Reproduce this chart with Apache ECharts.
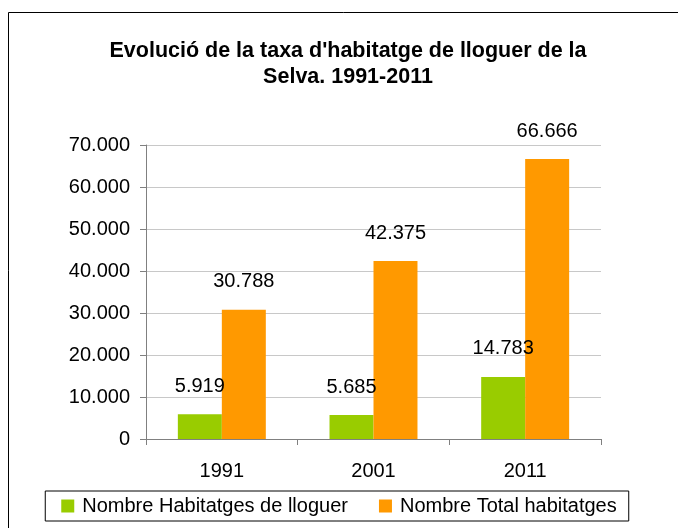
<!DOCTYPE html>
<html><head><meta charset="utf-8">
<script src="https://cdn.jsdelivr.net/npm/echarts@6/dist/echarts.min.js"></script>
<style>html,body{margin:0;padding:0;background:#fff}#c{width:678px;height:528px}</style>
</head><body><div id="c"></div>
<script>
const categories = ['1991', '2001', '2011'];
const lloguer = [5919, 5685, 14783];
const total = [30788, 42375, 66666];
const seriesNames = ['Nombre Habitatges de lloguer', 'Nombre Total habitatges'];
const titleText = "Evolució de la taxa d'habitatge de lloguer de la\nSelva. 1991-2011";

function fmt(v) { return String(Math.round(v)).replace(/\B(?=(\d{3})+(?!\d))/g, '.'); }
const F = 'Liberation Sans, Arial, sans-serif';
const chart = echarts.init(document.getElementById('c'));
const lbl = { show: true, position: 'top', distance: 18, color: '#000', fontSize: 20, fontFamily: F, formatter: p => fmt(p.value) };
chart.setOption({
  animation: false,
  graphic: [{ type: 'rect', shape: { x: 8.5, y: 12.5, width: 700, height: 600 }, style: { fill: 'none', stroke: '#000', lineWidth: 1 } }],
  title: { text: titleText, left: 343, top: 33, textAlign: 'center',
    textStyle: { fontFamily: F, fontWeight: 'bold', fontSize: 21.5, color: '#000', lineHeight: 26 } },
  legend: { bottom: 7, left: 'center', itemWidth: 13, itemHeight: 13, itemGap: 31, borderColor: '#000', borderWidth: 1, padding: [5, 12, 5, 16],
    textStyle: { fontFamily: F, fontSize: 20, color: '#000', lineHeight: 20, padding: [0, 0, 0, 3] }, icon: 'rect', data: seriesNames },
  grid: { left: 146, right: 77, top: 145, bottom: 89, containLabel: false },
  xAxis: { type: 'category', data: categories,
    axisLine: { lineStyle: { color: '#808080' } },
    axisTick: { show: true, length: 6, lineStyle: { color: '#808080' } },
    axisLabel: { color: '#000', fontSize: 20, fontFamily: F, margin: 22 } },
  yAxis: { type: 'value', min: 0, max: 70000, interval: 10000,
    axisLine: { show: true, lineStyle: { color: '#808080' } },
    axisTick: { show: true, length: 6, lineStyle: { color: '#808080' } },
    splitLine: { lineStyle: { color: '#c8c8c8' } },
    axisLabel: { color: '#000', fontSize: 20, fontFamily: F, margin: 16, formatter: v => fmt(v) } },
  series: [
    { name: seriesNames[0], type: 'bar', data: lloguer, barGap: '0%', barCategoryGap: '42%', itemStyle: { color: '#99cc00' }, label: lbl },
    { name: seriesNames[1], type: 'bar', data: total, barGap: '0%', barCategoryGap: '42%', itemStyle: { color: '#ff9900' }, label: lbl }
  ]
});
</script></body></html>
